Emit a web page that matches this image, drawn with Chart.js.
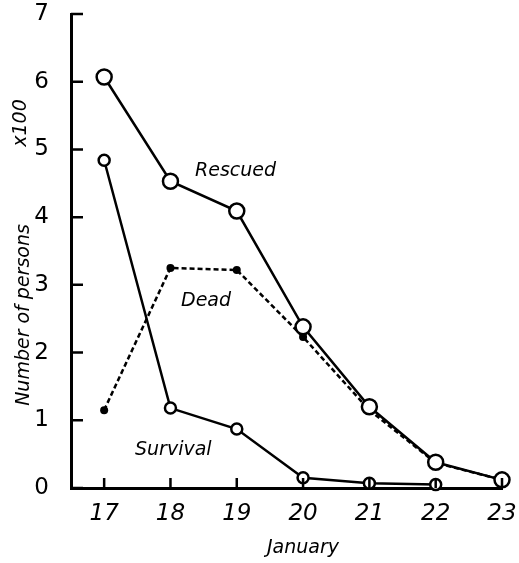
<!DOCTYPE html>
<html lang="en">
<head>
    <meta charset="UTF-8">
    <title>Number of persons, January</title>
    <style>
        html, body { margin: 0; padding: 0; background: #fff; }
        #wrap { width: 519px; height: 563px; }
    </style>
</head>
<body>
    <div id="wrap"><canvas id="chart"></canvas></div>

    <script src="https://cdn.jsdelivr.net/npm/chart.js"></script>
    <script>
        // days of January
        const days = [17, 18, 19, 20, 21, 22, 23];
        // number of persons (x100)
        const rescued = [6.07, 4.53, 4.09, 2.38, 1.20, 0.38, 0.12];
        const dead = [1.15, 3.25, 3.22, 2.23, 1.15, 0.37, 0.12];
        const survival = [4.84, 1.18, 0.87, 0.15, 0.07, 0.05];
        const yTicks = [0, 1, 2, 3, 4, 5, 6, 7];

        const pts = arr => arr.map((v, i) => ({ x: days[i], y: v }));

        // inward tick marks and the text written on the figure
        const marks = {
            id: 'marks',
            afterDraw(chart) {
                const ctx = chart.ctx;
                const xs = chart.scales.x, ys = chart.scales.y;
                const a = chart.chartArea;
                ctx.save();
                ctx.strokeStyle = '#000';
                ctx.lineWidth = 2.5;
                ctx.beginPath();
                yTicks.forEach(v => {
                    const py = ys.getPixelForValue(v);
                    ctx.moveTo(a.left, py);
                    ctx.lineTo(a.left + 12, py);
                });
                days.forEach(d => {
                    const px = xs.getPixelForValue(d);
                    ctx.moveTo(px, a.bottom);
                    ctx.lineTo(px, a.bottom - 10);
                });
                ctx.stroke();

                ctx.fillStyle = '#000';
                ctx.font = 'italic 19px "DejaVu Sans"';
                ctx.textAlign = 'left';
                ctx.textBaseline = 'middle';
                ctx.fillText('Rescued', 195, 171);
                ctx.fillText('Dead', 181, 301);
                ctx.fillText('Survival', 135, 450);

                ctx.textAlign = 'center';
                ctx.fillText('January', 303, 548);

                ctx.translate(24, 315);
                ctx.rotate(-Math.PI / 2);
                ctx.fillText('Number of persons', 0, 0);
                ctx.fillText('x100', 192, -3);
                ctx.restore();
            }
        };

        new Chart(document.getElementById('chart'), {
            type: 'line',
            data: {
                datasets: [{
                    label: 'Rescued',
                    data: pts(rescued),
                    borderColor: '#000',
                    borderWidth: 2.5,
                    pointRadius: 7.5,
                    pointBorderWidth: 2.5,
                    pointBackgroundColor: '#fff',
                    pointBorderColor: '#000'
                }, {
                    label: 'Dead',
                    data: pts(dead),
                    borderColor: '#000',
                    borderWidth: 2.5,
                    borderDash: [5, 3],
                    pointRadius: 4,
                    pointBorderWidth: 0,
                    pointBackgroundColor: '#000'
                }, {
                    label: 'Survival',
                    data: pts(survival),
                    borderColor: '#000',
                    borderWidth: 2.5,
                    pointRadius: 5.5,
                    pointBorderWidth: 2.5,
                    pointBackgroundColor: '#fff',
                    pointBorderColor: '#000'
                }]
            },
            options: {
                responsive: true,
                maintainAspectRatio: false,
                animation: false,
                clip: false,
                layout: { padding: { top: 14, right: 17, left: 0, bottom: 0 } },
                plugins: {
                    legend: { display: false },
                    tooltip: { enabled: false }
                },
                scales: {
                    x: {
                        type: 'linear',
                        min: 16.5,
                        max: 23,
                        afterBuildTicks: s => { s.ticks = days.map(v => ({ value: v })); },
                        afterFit: s => { s.height = 75; s.paddingLeft = 0; s.paddingRight = 0; },
                        grid: { display: false },
                        border: { display: true, color: '#000', width: 3 },
                        ticks: {
                            color: '#000',
                            padding: 4,
                            font: { family: 'DejaVu Sans', size: 23, style: 'italic' }
                        }
                    },
                    y: {
                        min: 0,
                        max: 7,
                        afterBuildTicks: s => { s.ticks = yTicks.map(v => ({ value: v })); },
                        afterFit: s => { s.width = 71; s.paddingTop = 0; s.paddingBottom = 0; },
                        grid: { display: false },
                        border: { display: true, color: '#000', width: 3 },
                        ticks: {
                            color: '#000',
                            padding: 14,
                            font: { family: 'DejaVu Sans', size: 23 }
                        }
                    }
                }
            },
            plugins: [marks]
        });
    </script>
</body>
</html>
